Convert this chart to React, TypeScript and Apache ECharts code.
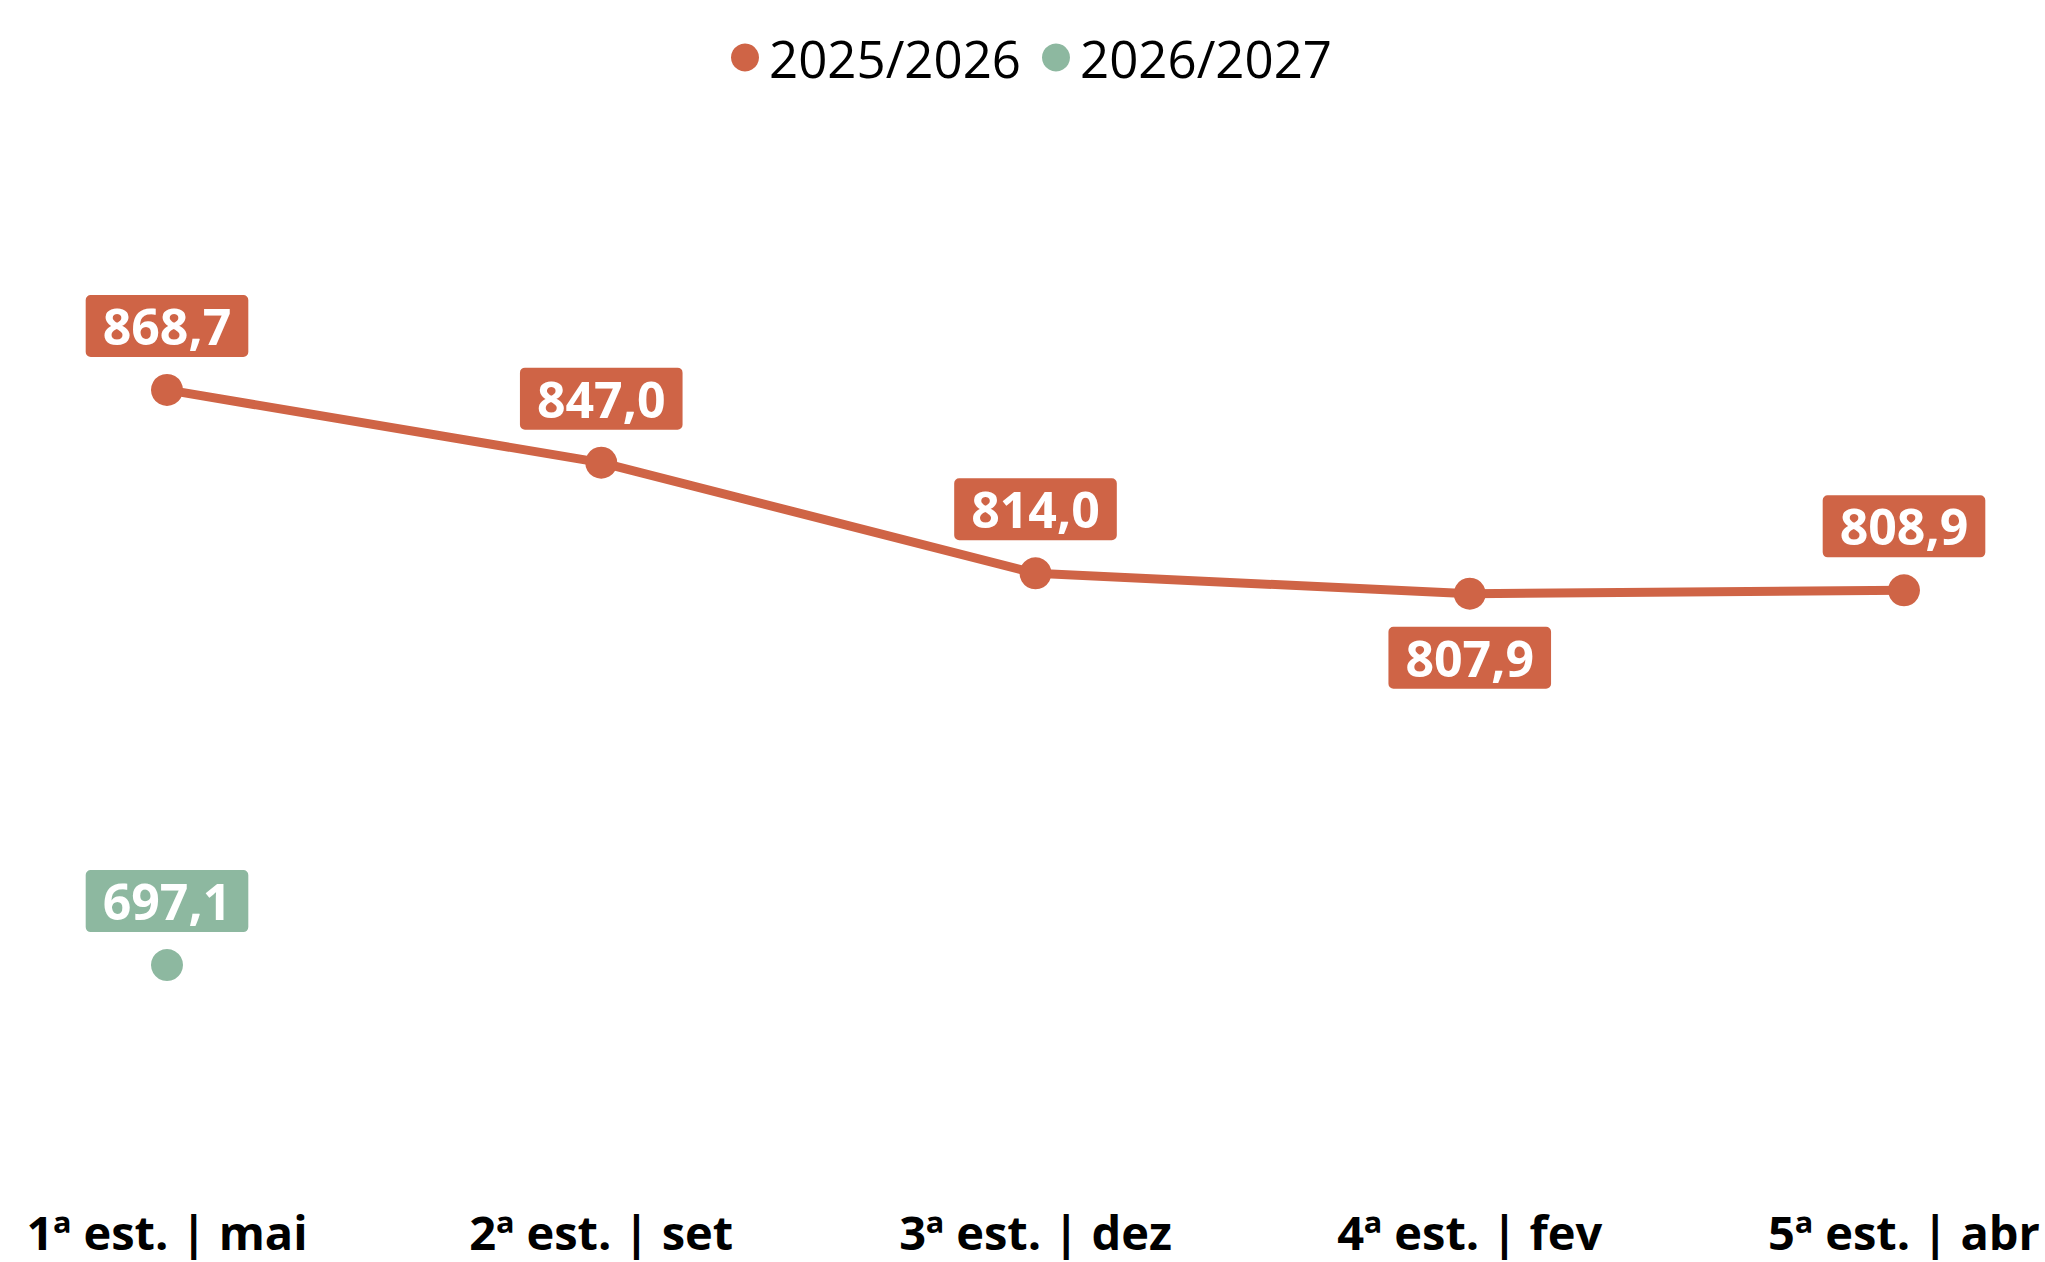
import React, { useEffect, useRef } from "react";
import * as echarts from "echarts";

const categories = ["1ª est. | mai", "2ª est. | set", "3ª est. | dez", "4ª est. | fev", "5ª est. | abr"];
const series2025 = [868.7, 847.0, 814.0, 807.9, 808.9];
const series2026 = [697.1, null, null, null, null];
const seriesNames = ["2025/2026", "2026/2027"];
const labelBelowIndex = [3];

const ORANGE = "#CF6446";
const GREEN = "#8DB8A0";
const FONT = "'Open Sans', 'Noto Sans', sans-serif";

const fmt = (v: number) => v.toFixed(1).replace(".", ",");

export default function App() {
  const ref = useRef<HTMLDivElement>(null);
  useEffect(() => {
    if (!ref.current) return;
    const chart = echarts.init(ref.current, null, { renderer: "svg" });
    const labelBase = (color: string) => ({
      show: true,
      position: "top" as const,
      distance: 17,
      color: "#fff",
      fontFamily: FONT,
      fontWeight: "bold" as const,
      fontSize: 50,
      lineHeight: 50,
      backgroundColor: color,
      borderRadius: 5,
      padding: [6, 17, 6, 17],
      formatter: (p: any) => fmt(p.value),
    });
    chart.setOption({
      animation: false,
      backgroundColor: "#fff",
      legend: {
        top: 27,
        left: 726,
        icon: "circle",
        itemWidth: 38,
        itemHeight: 28,
        itemGap: 21,
        textStyle: { fontFamily: FONT, fontSize: 51, color: "#000" },
        data: seriesNames,
      },
      grid: { left: 167, right: 141, top: 285, bottom: 139, containLabel: false },
      xAxis: {
        type: "category",
        data: categories,
        boundaryGap: false,
        axisLine: { show: false },
        axisTick: { show: false },
        axisLabel: {
          margin: 85,
          fontFamily: FONT,
          fontWeight: "bold",
          fontSize: 47,
          color: "#000",
          interval: 0,
        },
        splitLine: { show: false },
      },
      yAxis: {
        type: "value",
        min: 650,
        max: 900,
        show: false,
        splitLine: { show: false },
      },
      series: [
        {
          name: seriesNames[0],
          type: "line",
          data: series2025.map((v, i) =>
            labelBelowIndex.includes(i)
              ? { value: v, label: { position: "bottom" } }
              : v
          ),
          symbol: "circle",
          symbolSize: 32,
          lineStyle: { color: ORANGE, width: 9 },
          itemStyle: { color: ORANGE },
          label: labelBase(ORANGE),
        },
        {
          name: seriesNames[1],
          type: "line",
          data: series2026,
          symbol: "circle",
          symbolSize: 32,
          lineStyle: { color: GREEN, width: 9 },
          itemStyle: { color: GREEN },
          label: labelBase(GREEN),
        },
      ],
    });
    return () => chart.dispose();
  }, []);
  return (
    <div
      ref={ref}
      style={{ position: "absolute", left: 0, top: 0, width: 2045, height: 1262 }}
    />
  );
}
